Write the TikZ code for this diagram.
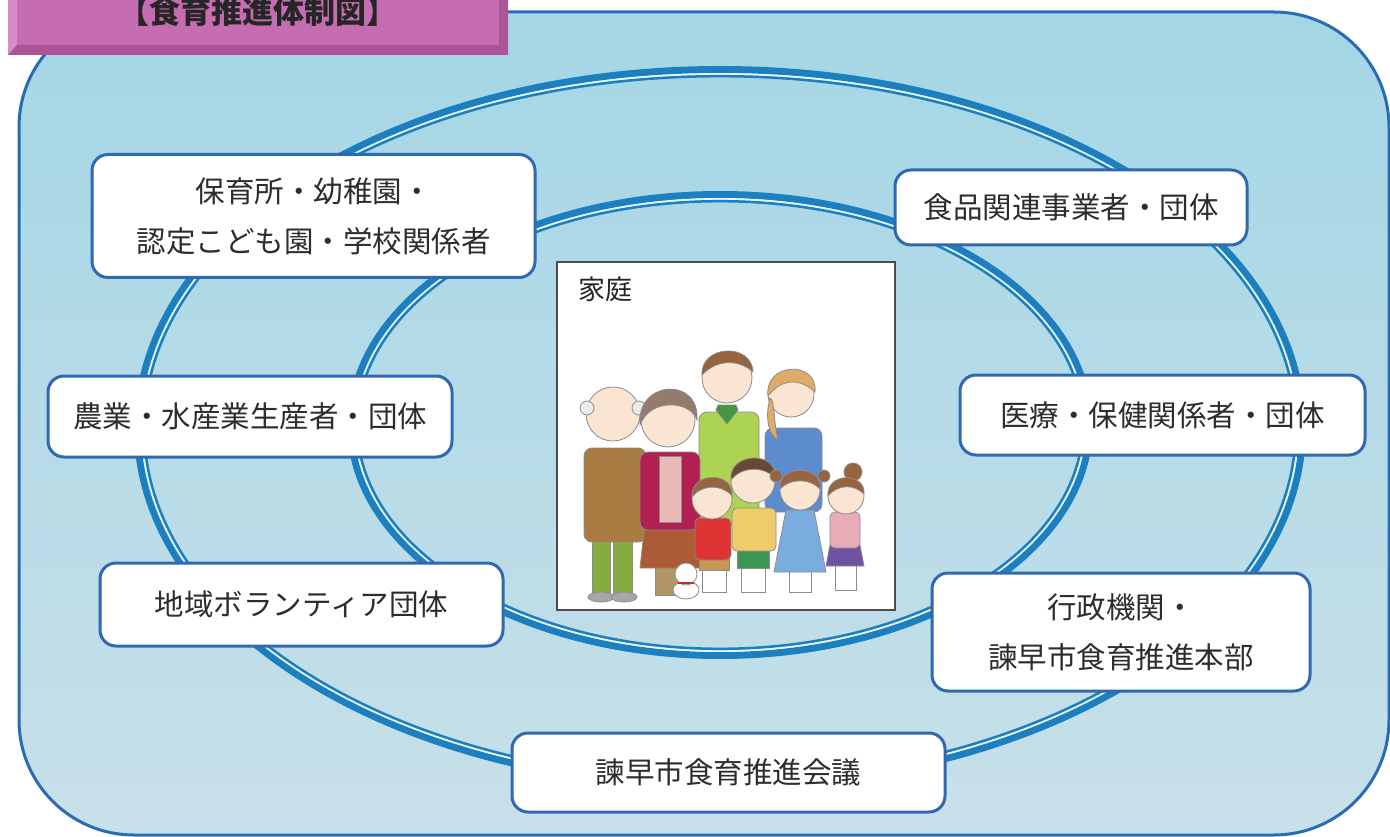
\documentclass[tikz,border=0pt]{standalone}
\usepackage{fontspec}
\newfontfamily\cjk{Noto Sans CJK JP}
\usetikzlibrary{shapes.geometric}

\definecolor{frameblue}{RGB}{40,108,180}
\definecolor{ringblue}{RGB}{28,128,192}
\definecolor{ringgap}{RGB}{232,244,248}
\definecolor{boxblue}{RGB}{48,104,178}
\definecolor{skytop}{RGB}{164,214,229}
\definecolor{skybot}{RGB}{200,224,233}
\definecolor{txt}{RGB}{45,45,45}
\definecolor{plum}{RGB}{198,108,178}
\definecolor{plumlight}{RGB}{214,140,200}
\definecolor{plumdark}{RGB}{172,84,152}
\definecolor{skin}{RGB}{250,228,210}
\definecolor{hairbrown}{RGB}{150,100,62}
\definecolor{hairdark}{RGB}{105,72,52}
\definecolor{hairgray}{RGB}{150,122,110}
\definecolor{blonde}{RGB}{222,172,102}

\tikzset{
  orgbox/.style={draw=boxblue, line width=3pt, fill=white, rounded corners=16pt,
    font=\cjk\fontsize{29.5}{50}\selectfont, text=txt, align=center, inner sep=0pt},
  ringouter/.style={draw=ringblue, line width=7pt},
  ringwhite/.style={draw=ringgap, line width=2pt},
  ringinner/.style={draw=ringblue, line width=2.5pt},
  ink/.style={draw=black!45, line width=0.8pt},
}

\begin{document}
\begin{tikzpicture}[x=1pt,y=-1pt]
\useasboundingbox (0,0) rectangle (1390,837);

% outer rounded field
\shade[top color=skytop, bottom color=skybot, rounded corners=115pt]
  (19,12) rectangle (1389,835);
\draw[frameblue, line width=3pt, rounded corners=115pt]
  (19,12) rectangle (1389,835);

% outer ring (double line)
\draw[ringouter] (720,428) ellipse [x radius=582.5, y radius=358.5];
\draw[ringwhite] (720,428) ellipse [x radius=578, y radius=354];
\draw[ringinner] (720,428) ellipse [x radius=575.8, y radius=351.8];

% inner ring (double line)
\draw[ringouter] (720,425) ellipse [x radius=369.5, y radius=230.5];
\draw[ringwhite] (720,425) ellipse [x radius=365, y radius=226];
\draw[ringinner] (720,425) ellipse [x radius=362.8, y radius=223.8];

% member boxes
\node[orgbox, minimum width=443pt, minimum height=123pt] (school) at (313.5,216)
  {保育所・幼稚園・\\認定こども園・学校関係者};
\node[orgbox, minimum width=352pt, minimum height=75pt] (food) at (1071,207.5)
  {食品関連事業者・団体};
\node[orgbox, minimum width=404pt, minimum height=81pt] (farm) at (250,416.5)
  {農業・水産業生産者・団体};
\node[orgbox, minimum width=405pt, minimum height=80pt] (medical) at (1162.5,415)
  {医療・保健関係者・団体};
\node[orgbox, minimum width=403pt, minimum height=83pt] (volunteer) at (301.5,604.5)
  {地域ボランティア団体};
\node[orgbox, minimum width=378pt, minimum height=118pt] (admin) at (1121,632)
  {行政機関・\\諫早市食育推進本部};
\node[orgbox, minimum width=433pt, minimum height=79pt] (council) at (728.5,772.5)
  {諫早市食育推進会議};

% household panel
\node[draw=black!70, line width=1.4pt, fill=white, minimum width=338pt, minimum height=348pt,
  inner sep=0pt] (home) at (726,436) {};
\node[font=\cjk\fontsize{27}{30}\selectfont, text=black!85, anchor=north west, inner sep=0pt]
  (homelabel) at (578,277) {家庭};

% family: adults at the back
% father
\draw[ink, fill={rgb,255:red,172;green,212;blue,82}, rounded corners=8pt] (699,412) rectangle (759,525);
\draw[ink, fill={rgb,255:red,70;green,150;blue,64}] (716,410) -- (727,424) -- (738,410) -- (736,405) -- (718,405) -- cycle;
\draw[ink, fill=skin] (727,378) circle [radius=25];
\draw[ink, fill=hairbrown] (702,375) .. controls (700,345) and (752,342) .. (753,372) .. controls (740,360) and (718,358) .. (702,375) -- cycle;
% mother
\draw[ink, fill={rgb,255:red,92;green,140;blue,204}, rounded corners=8pt] (765,428) rectangle (822,512);
\draw[ink, fill=skin] (791,394) circle [radius=23];
\draw[ink, fill=blonde] (768,396) .. controls (764,362) and (818,360) .. (815,392) .. controls (800,378) and (782,378) .. (768,396) -- cycle;
\draw[ink, fill=blonde] (770,398) .. controls (764,420) and (770,436) .. (778,440) .. controls (774,425) and (775,410) .. (772,400) -- cycle;
% grandfather
\draw[ink, fill={rgb,255:red,132;green,172;blue,62}] (592,535) rectangle (610,593);
\draw[ink, fill={rgb,255:red,132;green,172;blue,62}] (613,535) rectangle (632,593);
\draw[ink, fill=gray!70] (601,597) ellipse [x radius=13, y radius=5];
\draw[ink, fill=gray!70] (624,597) ellipse [x radius=13, y radius=5];
\draw[ink, fill={rgb,255:red,168;green,124;blue,64}, rounded corners=8pt] (584,448) rectangle (646,542);
\draw[ink, fill=skin] (613,414) circle [radius=27];
\draw[ink, fill=gray!15] (587,408) circle [radius=7];
\draw[ink, fill=gray!15] (639,408) circle [radius=7];
% grandmother
\draw[ink, fill={rgb,255:red,176;green,150;blue,102}] (655,560) rectangle (683,595);
\draw[ink, fill={rgb,255:red,172;green,92;blue,52}] (645,522) -- (695,522) -- (701,568) -- (640,568) -- cycle;
\draw[ink, fill={rgb,255:red,178;green,32;blue,82}, rounded corners=8pt] (640,452) rectangle (700,530);
\draw[ink, fill={rgb,255:red,232;green,186;blue,184}] (659,456) rectangle (681,522);
\draw[ink, fill=skin] (668,420) circle [radius=27];
\draw[ink, fill=hairgray] (640,425) .. controls (636,380) and (700,376) .. (697,420) .. controls (690,400) and (650,398) .. (640,425) -- cycle;

% family: children in front
% boy in red
\draw[ink, fill=white] (702,568) rectangle (726,592);
\draw[ink, fill={rgb,255:red,200;green,152;blue,82}] (699,556) rectangle (729,570);
\draw[ink, fill={rgb,255:red,222;green,52;blue,52}, rounded corners=5pt] (695,518) rectangle (731,560);
\draw[ink, fill=skin] (712,499) circle [radius=20];
\draw[ink, fill=hairbrown] (692,497) .. controls (690,472) and (734,470) .. (732,496) .. controls (722,484) and (702,484) .. (692,497) -- cycle;
% boy in yellow
\draw[ink, fill=white] (741,566) rectangle (765,592);
\draw[ink, fill={rgb,255:red,60;green,150;blue,82}] (737,547) rectangle (769,568);
\draw[ink, fill={rgb,255:red,238;green,204;blue,108}, rounded corners=5pt] (732,508) rectangle (776,551);
\draw[ink, fill=skin] (753,481) circle [radius=22];
\draw[ink, fill=hairdark] (731,480) .. controls (728,452) and (778,450) .. (775,478) .. controls (764,466) and (742,466) .. (731,480) -- cycle;
% girl in blue
\draw[ink, fill=white] (789,568) rectangle (811,592);
\draw[ink, fill={rgb,255:red,122;green,172;blue,222}] (786,510) -- (814,510) -- (826,572) -- (774,572) -- cycle;
\draw[ink, fill=skin] (800,490) circle [radius=20];
\draw[ink, fill=hairbrown] (780,489) .. controls (778,464) and (822,464) .. (820,489) .. controls (810,478) and (790,478) .. (780,489) -- cycle;
\draw[ink, fill=hairbrown] (776,476) circle [radius=6];
\draw[ink, fill=hairbrown] (824,476) circle [radius=6];
% girl in pink
\draw[ink, fill=white] (835,564) rectangle (856,590);
\draw[ink, fill={rgb,255:red,112;green,82;blue,162}] (830,545) -- (860,545) -- (864,566) -- (826,566) -- cycle;
\draw[ink, fill={rgb,255:red,232;green,172;blue,182}, rounded corners=5pt] (830,512) rectangle (860,548);
\draw[ink, fill=skin] (846,496) circle [radius=18];
\draw[ink, fill=hairbrown] (853,472) circle [radius=9];
\draw[ink, fill=hairbrown] (828,496) .. controls (826,472) and (866,472) .. (864,494) .. controls (854,484) and (838,484) .. (828,496) -- cycle;
% dog
\draw[ink, fill=white] (686,590) ellipse [x radius=13, y radius=9];
\draw[ink, fill=white] (686,574) circle [radius=11];
\draw[draw={rgb,255:red,200;green,40;blue,40}, line width=1.2pt] (678,583) -- (694,583);

% title plate
\fill[plum] (8,-10) rectangle (508,55);
\fill[plumlight] (8,-10) -- (17,-10) -- (17,45) -- (8,55) -- cycle;
\fill[plumdark] (8,55) -- (17,45) -- (499,45) -- (508,55) -- cycle;
\fill[plumdark] (508,-10) -- (499,-10) -- (499,45) -- (508,55) -- cycle;
\node[font=\cjk\bfseries\fontsize{31}{33}\selectfont, text=black!85, inner sep=0pt]
  (title) at (258,12) {【食育推進体制図】};
\end{tikzpicture}
\end{document}
